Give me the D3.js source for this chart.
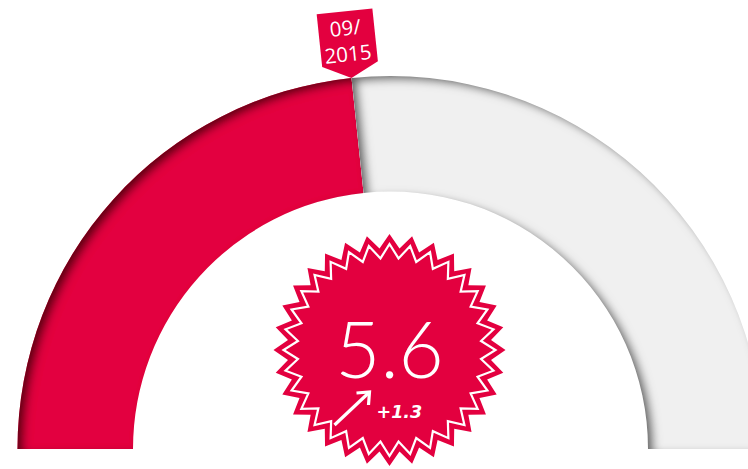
<!DOCTYPE html>
<html><head><meta charset="utf-8">
<script src="https://cdn.jsdelivr.net/npm/d3@7"></script>
<style>html,body{margin:0;padding:0;background:#fff;overflow:hidden}</style>
</head><body>
<script>
// ---- data ----
const gaugeMin = 0;
const gaugeMax = 12;
const values = [5.6];
const changes = [1.3];
const periodLabels = ["09/", "2015"];
const colors = ["#e3003f", "#f0f0f0"];

const W = 748, H = 469;
const cx = 390.5, cy = 449, rOuter = 373, rInner = 257.5;

const svg = d3.select("body").append("svg").attr("width", W).attr("height", H);
const defs = svg.append("defs");
const f = defs.append("filter").attr("id", "inset").attr("x", "-10%").attr("y", "-10%").attr("width", "120%").attr("height", "120%");
f.append("feComponentTransfer").attr("in", "SourceAlpha").attr("result", "inv")
  .append("feFuncA").attr("type", "table").attr("tableValues", "1 0");
f.append("feGaussianBlur").attr("in", "inv").attr("stdDeviation", 4.5).attr("result", "blur");
f.append("feOffset").attr("in", "blur").attr("dx", 6).attr("dy", 4).attr("result", "off");
f.append("feFlood").attr("flood-color", "#000").attr("flood-opacity", 0.85).attr("result", "col");
f.append("feComposite").attr("in", "col").attr("in2", "off").attr("operator", "in").attr("result", "sh");
f.append("feComposite").attr("in", "sh").attr("in2", "SourceAlpha").attr("operator", "in").attr("result", "shin");
const fm = f.append("feMerge");
fm.append("feMergeNode").attr("in", "SourceGraphic");
fm.append("feMergeNode").attr("in", "shin");

const angle = d3.scaleLinear().domain([gaugeMin, gaugeMax]).range([-Math.PI / 2, Math.PI / 2]);
const arc = d3.arc().innerRadius(rInner).outerRadius(rOuter);
const g = svg.append("g").attr("transform", `translate(${cx},${cy})`);

const v = values[0];
const segs = [
  {start: gaugeMin, end: v, color: colors[0]},
  {start: v, end: gaugeMax, color: colors[1]}
];
g.selectAll("path.seg").data(segs).join("path").attr("class", "seg")
  .attr("d", d => arc({startAngle: angle(d.start), endAngle: angle(d.end)}))
  .attr("fill", d => d.color)
  .attr("filter", "url(#inset)");

// ---- marker ----
const a = angle(v);
const tipX = rOuter * Math.sin(a), tipY = -rOuter * Math.cos(a);
const mk = g.append("g").attr("transform", `translate(${tipX},${tipY}) rotate(${a * 180 / Math.PI})`);
const mw = 28, mh = 67, mt = 14;
mk.append("path")
  .attr("d", `M${-mw},${-mh} L${mw},${-mh} L${mw},${-mt} L0,0 L${-mw},${-mt} Z`)
  .attr("fill", colors[0]);
mk.selectAll("text").data(periodLabels).join("text")
  .attr("x", -1).attr("y", (d, i) => -43 + i * 26)
  .attr("text-anchor", "middle")
  .attr("font-family", "'Open Sans', 'Noto Sans', sans-serif")
  .attr("font-size", 20.5).attr("fill", "#fff")
  .text(d => d);

// ---- star badge ----
const sx = 0, sy = -99;
const nPts = 32;
function starPath(ro, ri) {
  const pts = [];
  for (let i = 0; i < nPts * 2; i++) {
    const r = i % 2 === 0 ? ro : ri;
    const t = i * Math.PI / nPts;
    pts.push([r * Math.sin(t), -r * Math.cos(t)]);
  }
  return d3.line()(pts) + "Z";
}
const star = g.append("g").attr("transform", `translate(${sx - 1},${sy})`);
star.append("path").attr("d", starPath(116, 102)).attr("fill", colors[0]);
star.append("path").attr("d", starPath(106, 92)).attr("fill", "none")
  .attr("stroke", "#fff").attr("stroke-width", 2.2).attr("stroke-linejoin", "miter");
star.append("text").attr("x", 0).attr("y", 28)
  .attr("text-anchor", "middle")
  .attr("font-family", "Lato, 'Open Sans', sans-serif").attr("font-weight", 300)
  .attr("font-size", 78).attr("fill", "#fff")
  .text(d3.format(".1f")(v));
// arrow
const arr = star.append("g").attr("stroke", "#fff").attr("stroke-width", 3.2).attr("fill", "none").attr("stroke-linecap", "butt");
arr.append("line").attr("x1", -55).attr("y1", 75).attr("x2", -21).attr("y2", 43);
arr.append("path").attr("d", "M-33,43 L-20,42 L-21,55");
star.append("text").attr("x", -13).attr("y", 68)
  .attr("font-family", "'DejaVu Sans', sans-serif").attr("font-weight", 700).attr("font-style", "italic")
  .attr("font-size", 17.5).attr("fill", "#fff")
  .text("+" + d3.format(".1f")(changes[0]));
</script>
</body></html>
